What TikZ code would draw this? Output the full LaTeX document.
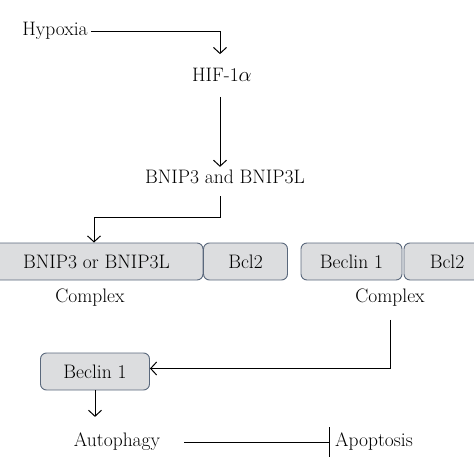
\documentclass[tikz,border=0pt]{standalone}
\usepackage{tikz}
\usetikzlibrary{arrows.meta, positioning}
\definecolor{boxfill}{RGB}{220,221,223}
\definecolor{boxedge}{RGB}{90,104,124}
\tikzset{
  txt/.style={font=\fontsize{19.5}{23}\selectfont, inner sep=3pt},
  protbox/.style={txt, draw=boxedge, line width=0.9pt, fill=boxfill,
    rounded corners=6pt, minimum height=37pt, inner sep=0pt},
  conn/.style={line width=1pt, -{Straight Barb[length=6pt,width=13pt]}}
}
\begin{document}
\begin{tikzpicture}[x=1pt, y=-1pt]
\useasboundingbox (0,0) rectangle (474,474);
\clip (0,0) rectangle (474,474);
% top chain
\node[txt] (hyp) at (55,31) {Hypoxia};
\node[txt] (hif) at (222,75) {HIF-1$\alpha$};
\node[txt] (bnip) at (225,177) {BNIP3 and BNIP3L};
% complexes
\node[protbox, minimum width=213pt] (bnipor) at (96.5,261.5) {BNIP3 or BNIP3L};
\node[protbox, minimum width=84pt] (bcla) at (245.5,261.5) {Bcl2};
\node[protbox, minimum width=101pt] (becb) at (351.5,261.5) {Beclin 1};
\node[protbox, minimum width=86pt] (bclb) at (447,261.5) {Bcl2};
\node[txt] (cxa) at (90,298) {Complex};
\node[txt] (cxb) at (390,298) {Complex};
% bottom
\node[protbox, minimum width=109pt] (bec) at (95,371.5) {Beclin 1};
\node[txt] (auto) at (117,442) {Autophagy};
\node[txt] (apo) at (374,442) {Apoptosis};
\coordinate (bend1) at (94,217);
% connectors
\draw[conn] (hyp.east) -| ([yshift=11pt]hif.north -| 220,0);
\draw[conn, shorten <=12pt] (220,0 |- hif.south) -- (220,0 |- bnip.north);
\draw[conn, shorten <=9pt] (220,0 |- bnip.south) |- (bend1) -- (bend1 |- bnipor.north);
\draw[conn, shorten <=10pt] (cxb.south) |- ([yshift=3pt]bec.east);
\draw[conn] (bec.south) -- ([yshift=13pt]bec.south |- auto.north);
\draw[line width=1pt, -{Bar[width=30pt]}, shorten <=21pt] (auto.east) -- ([xshift=-2pt]apo.west);
\end{tikzpicture}
\end{document}
